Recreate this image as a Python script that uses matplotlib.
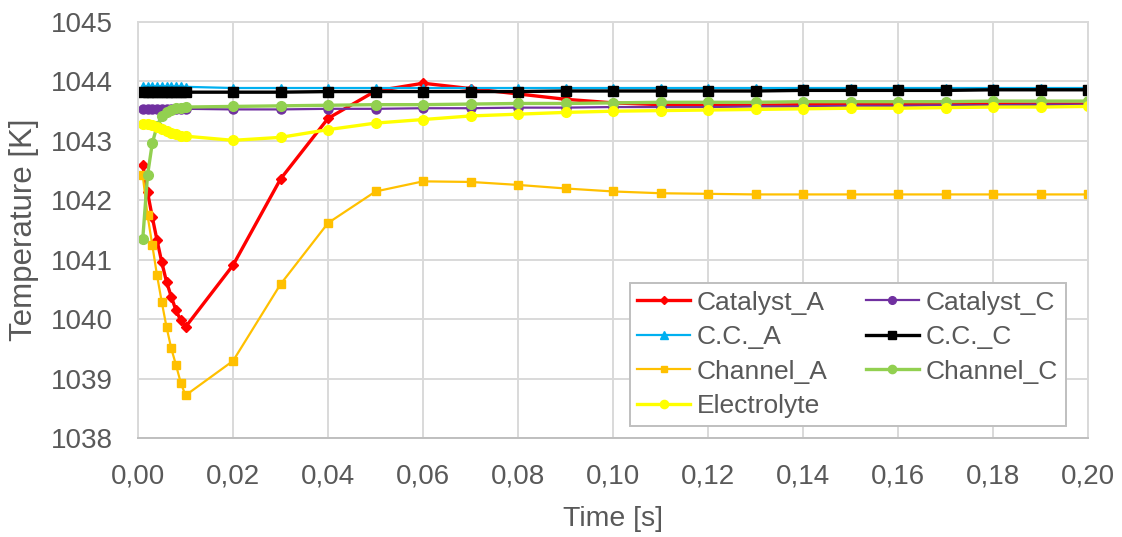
import numpy as np
import matplotlib.pyplot as plt
from matplotlib.ticker import FuncFormatter, MultipleLocator

plt.rcParams['font.family'] = ['Liberation Sans', 'DejaVu Sans']

# time points [s]
time = [0.001, 0.002, 0.003, 0.004, 0.005, 0.006, 0.007, 0.008, 0.009, 0.010,
        0.02, 0.03, 0.04, 0.05, 0.06, 0.07, 0.08, 0.09, 0.10, 0.11,
        0.12, 0.13, 0.14, 0.15, 0.16, 0.17, 0.18, 0.19, 0.20]

catalyst_a = [1042.59, 1042.14, 1041.72, 1041.33, 1040.96, 1040.63, 1040.38, 1040.15, 1039.98, 1039.87,
              1040.91, 1042.36, 1043.38, 1043.84, 1043.97, 1043.88, 1043.79, 1043.70, 1043.64, 1043.61,
              1043.60, 1043.60, 1043.61, 1043.61, 1043.61, 1043.62, 1043.62, 1043.62, 1043.62]
catalyst_c = [1043.54, 1043.54, 1043.54, 1043.54, 1043.54, 1043.54, 1043.54, 1043.54, 1043.54, 1043.54,
              1043.53, 1043.53, 1043.54, 1043.54, 1043.55, 1043.55, 1043.56, 1043.56, 1043.57, 1043.57,
              1043.57, 1043.58, 1043.58, 1043.59, 1043.59, 1043.60, 1043.60, 1043.61, 1043.61]
cc_a = [1043.92, 1043.92, 1043.92, 1043.92, 1043.92, 1043.92, 1043.92, 1043.92, 1043.92, 1043.91,
        1043.89, 1043.89, 1043.89, 1043.89, 1043.89, 1043.89, 1043.89, 1043.89, 1043.89, 1043.89,
        1043.89, 1043.89, 1043.89, 1043.89, 1043.89, 1043.89, 1043.89, 1043.89, 1043.89]
cc_c = [1043.82, 1043.82, 1043.82, 1043.82, 1043.82, 1043.82, 1043.82, 1043.82, 1043.82, 1043.82,
        1043.82, 1043.82, 1043.83, 1043.83, 1043.83, 1043.83, 1043.83, 1043.84, 1043.84, 1043.84,
        1043.84, 1043.84, 1043.85, 1043.85, 1043.85, 1043.85, 1043.86, 1043.86, 1043.86]
channel_a = [1042.42, 1041.75, 1041.25, 1040.74, 1040.29, 1039.87, 1039.51, 1039.23, 1038.93, 1038.72,
             1039.30, 1040.59, 1041.62, 1042.15, 1042.32, 1042.31, 1042.26, 1042.20, 1042.15, 1042.12,
             1042.11, 1042.10, 1042.10, 1042.10, 1042.10, 1042.10, 1042.10, 1042.10, 1042.10]
channel_c = [1041.35, 1042.42, 1042.96, 1043.25, 1043.42, 1043.48, 1043.52, 1043.55, 1043.56, 1043.57,
             1043.58, 1043.59, 1043.60, 1043.61, 1043.61, 1043.62, 1043.63, 1043.63, 1043.64, 1043.65,
             1043.65, 1043.65, 1043.66, 1043.66, 1043.66, 1043.66, 1043.67, 1043.67, 1043.67]
electrolyte = [1043.29, 1043.28, 1043.26, 1043.23, 1043.20, 1043.17, 1043.14, 1043.11, 1043.09, 1043.08,
               1043.01, 1043.06, 1043.19, 1043.30, 1043.36, 1043.42, 1043.45, 1043.48, 1043.50, 1043.51,
               1043.52, 1043.53, 1043.54, 1043.55, 1043.55, 1043.56, 1043.57, 1043.57, 1043.58]

fig = plt.figure(figsize=(11.22, 5.37), dpi=100)
ax = fig.add_axes([0.123, 0.184, 0.847, 0.775])

h_cat_a, = ax.plot(time, catalyst_a, color='#ff0000', lw=2.4, marker='D', ms=5, label='Catalyst_A')
h_cat_c, = ax.plot(time, catalyst_c, color='#7030a0', lw=1.6, marker='o', ms=6.5, label='Catalyst_C')
h_cc_a, = ax.plot(time, cc_a, color='#00b0f0', lw=1.6, marker='^', ms=6, label='C.C._A')
h_cc_c, = ax.plot(time, cc_c, color='#000000', lw=2.4, marker='s', ms=7.5, label='C.C._C')
h_ch_a, = ax.plot(time, channel_a, color='#ffc000', lw=1.6, marker='s', ms=5.5, label='Channel_A')
h_ch_c, = ax.plot(time, channel_c, color='#92d050', lw=2.4, marker='o', ms=7, label='Channel_C')
h_el, = ax.plot(time, electrolyte, color='#ffff00', lw=2.4, marker='o', ms=7, label='Electrolyte')

ax.set_xlim(0, 0.20)
ax.set_ylim(1038, 1045)
ax.xaxis.set_major_locator(MultipleLocator(0.02))
ax.yaxis.set_major_locator(MultipleLocator(1))
ax.xaxis.set_major_formatter(FuncFormatter(lambda v, p: f'{v:.2f}'.replace('.', ',')))
ax.yaxis.set_major_formatter(FuncFormatter(lambda v, p: f'{v:.0f}'))

ax.grid(color='#d9d9d9', lw=1.4)
ax.set_axisbelow(True)
for s in ax.spines.values():
    s.set_color('#d9d9d9')
    s.set_linewidth(1.4)
ax.spines['bottom'].set_color('#bfbfbf')

ax.tick_params(axis='both', length=0, colors='#595959')
ax.tick_params(axis='y', labelsize=20, pad=18)
ax.tick_params(axis='x', labelsize=20, pad=18)

ax.set_xlabel('Time [s]', fontsize=20.5, color='#595959', labelpad=12)
ax.set_ylabel('Temperature [K]', fontsize=22.5, color='#595959', labelpad=9)

handles = [h_cat_a, h_cc_a, h_ch_a, h_el, h_cat_c, h_cc_c, h_ch_c]
leg = ax.legend(handles=handles, ncol=2, loc='lower right', bbox_to_anchor=(0.976, 0.029),
                borderaxespad=0, fontsize=19, frameon=True, fancybox=False, framealpha=1,
                edgecolor='#bfbfbf', handlelength=2.0, handletextpad=0.25,
                columnspacing=1.45, labelspacing=0.4, borderpad=0.3)
leg.get_frame().set_linewidth(1.4)
for t in leg.get_texts():
    t.set_color('#595959')
for line in leg.get_lines():
    line.set_markersize(line.get_markersize() * 0.85)

fig.savefig('out.png', dpi=100)
